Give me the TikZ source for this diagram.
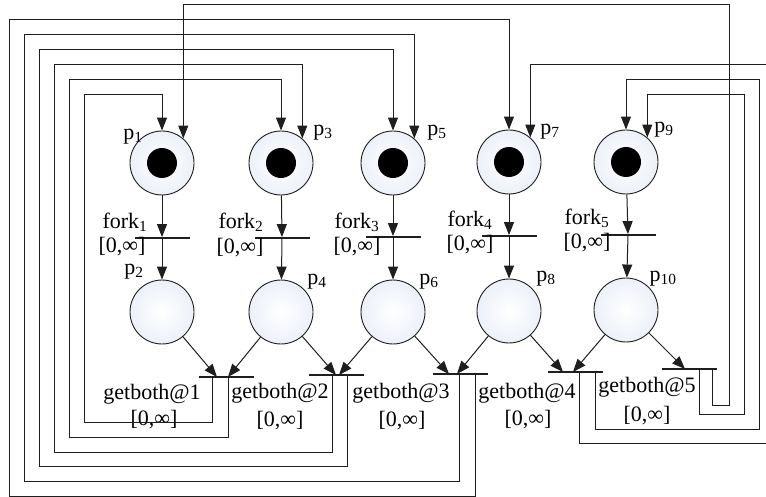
\documentclass[tikz,border=0pt]{standalone}
\usepackage{fontspec}
\setmainfont{Liberation Serif}
\usetikzlibrary{arrows.meta,shadings}

\definecolor{wirecol}{RGB}{30,30,30}
\definecolor{placefill}{RGB}{236,240,248}

\tikzset{
  place/.style={circle, draw=wirecol, line width=0.9pt, minimum size=64pt, inner sep=0pt,
    inner color=white, outer color=placefill},
  marked/.style={place, path picture={\fill[black] (path picture bounding box.center) circle (15pt);}},
  trans/.style={fill=wirecol, minimum width=55pt, minimum height=1.4pt, inner sep=0pt},
  arc/.style={-{Triangle[length=13pt,width=10pt]}, draw=wirecol, line width=1pt},
  txt/.style={inner sep=0pt, font=\fontsize{22}{24}\selectfont},
}

\begin{document}
\begin{tikzpicture}[x=1pt, y=-1pt]
    \useasboundingbox (0,0) rectangle (766,497);
    \clip (0,0) rectangle (766,497);

    % philosophers' places, with the token
    \node[marked] (p1) at (162,163) {};
    \node[marked] (p3) at (281,163) {};
    \node[marked] (p5) at (393,163) {};
    \node[marked] (p7) at (509,162) {};
    \node[marked] (p9) at (626,162) {};
    % places after fork
    \node[place] (p2) at (162,312) {};
    \node[place] (p4) at (281,312) {};
    \node[place] (p6) at (393,312) {};
    \node[place] (p8) at (509,311) {};
    \node[place] (p10) at (626,310) {};

    % transitions
    \node[trans] (fork1) at (162,238) {};
    \node[trans] (fork2) at (282,238) {};
    \node[trans] (fork3) at (393,237) {};
    \node[trans] (fork4) at (509,236) {};
    \node[trans] (fork5) at (628,235) {};
    \node[trans] (get1) at (226,377) {};
    \node[trans] (get2) at (336,375) {};
    \node[trans] (get3) at (460,374) {};
    \node[trans] (get4) at (575,372) {};
    \node[trans] (get5) at (689,369) {};

    % place names
    \node[txt] (lp1) at (133,137) {p\textsubscript{1}};
    \node[txt] (lp3) at (323,133) {p\textsubscript{3}};
    \node[txt] (lp5) at (437,133) {p\textsubscript{5}};
    \node[txt] (lp7) at (550,132) {p\textsubscript{7}};
    \node[txt] (lp9) at (664,130) {p\textsubscript{9}};
    \node[txt] (lp2) at (134,272) {p\textsubscript{2}};
    \node[txt] (lp4) at (317,282) {p\textsubscript{4}};
    \node[txt] (lp6) at (429,282) {p\textsubscript{6}};
    \node[txt] (lp8) at (546,279) {p\textsubscript{8}};
    \node[txt] (lp10) at (663,279) {p\textsubscript{10}};

    % transition names and intervals
    \node[txt] (lf1) at (125,222) {fork\textsubscript{1}};
    \node[txt] (if1) at (122,247) {[0,∞]};
    \node[txt] (lf2) at (241,222) {fork\textsubscript{2}};
    \node[txt] (if2) at (240,248) {[0,∞]};
    \node[txt] (lf3) at (357,222) {fork\textsubscript{3}};
    \node[txt] (if3) at (357,247) {[0,∞]};
    \node[txt] (lf4) at (470,220) {fork\textsubscript{4}};
    \node[txt] (if4) at (470,245) {[0,∞]};
    \node[txt] (lf5) at (587,218) {fork\textsubscript{5}};
    \node[txt] (if5) at (587,243) {[0,∞]};
    \node[txt] (lg1) at (152,394) {getboth@1};
    \node[txt] (ig1) at (154,420) {[0,∞]};
    \node[txt] (lg2) at (280,393) {getboth@2};
    \node[txt] (ig2) at (280,421) {[0,∞]};
    \node[txt] (lg3) at (401,393) {getboth@3};
    \node[txt] (ig3) at (402,421) {[0,∞]};
    \node[txt] (lg4) at (527,393) {getboth@4};
    \node[txt] (ig4) at (528,420) {[0,∞]};
    \node[txt] (lg5) at (647,387) {getboth@5};
    \node[txt] (ig5) at (647,416) {[0,∞]};

    % through the forks
    \draw[arc] (p1) -- (fork1);
    \draw[arc] (fork1) -- (p2);
    \draw[arc] (p3) -- (fork2);
    \draw[arc] (fork2) -- (p4);
    \draw[arc] (p5) -- (fork3);
    \draw[arc] (fork3) -- (p6);
    \draw[arc] (p7) -- (fork4);
    \draw[arc] (fork4) -- (p8);
    \draw[arc] (p9) -- (fork5);
    \draw[arc] (fork5) -- (p10);

    % into getboth
    \draw[arc] (p2) -- ([xshift=-9pt]get1.center);
    \draw[arc] (p4) -- ([xshift=2pt]get1.center);
    \draw[arc] (p4) -- ([xshift=0pt]get2.center);
    \draw[arc] (p6) -- ([xshift=3pt]get2.center);
    \draw[arc] (p6) -- ([xshift=-11pt]get3.center);
    \draw[arc] (p8) -- ([xshift=-3pt]get3.center);
    \draw[arc] (p8) -- ([xshift=-12pt]get4.center);
    \draw[arc] (p10) -- ([xshift=-2pt]get4.center);
    \draw[arc] (p10) -- ([xshift=-4pt]get5.center);

    % back to the philosophers
    \draw[arc] ([xshift=-14pt]get1.center) |- (84,422) -- (84,95) -| (p1.north);
    \draw[arc] ([xshift=2pt]get1.center) |- (69,437) -- (69,80) -| (p3.north);
    \draw[arc] ([xshift=-4pt]get2.center) |- (54,452) -- (54,65) -| (p3.49);
    \draw[arc] ([xshift=11pt]get2.center) |- (39,466) -- (39,50) -| (p5.north);
    \draw[arc] ([xshift=-1pt]get3.center) |- (24,481) -- (24,35) -| (p5.49);
    \draw[arc] ([xshift=15pt]get3.center) |- (9,496) -- (9,20) -| (p7.north);
    \draw[arc] ([xshift=4pt]get4.center) |- (780,443) -- (780,65) -| (p7.49);
    \draw[arc] ([xshift=20pt]get4.center) |- (759,429) -- (759,80) -| (p9.north);
    \draw[arc] ([xshift=10pt]get5.center) |- (744,414) -- (744,95) -| (p9.49);
    \draw[arc] ([xshift=23pt]get5.center) |- (729,405) -- (729,5) -| (p1.49);
\end{tikzpicture}
\end{document}
